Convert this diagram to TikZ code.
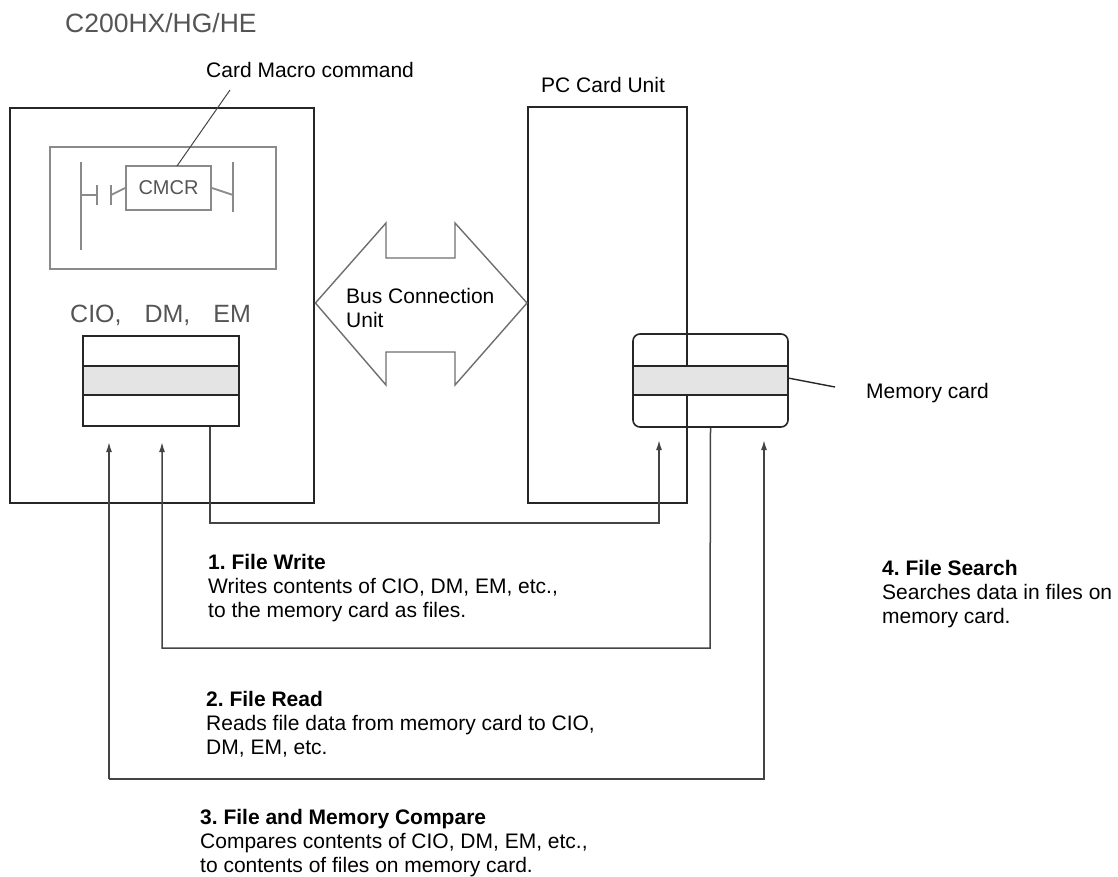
\documentclass[tikz,border=0pt]{standalone}
\usepackage{fontspec}
\setmainfont{Liberation Sans}
\usetikzlibrary{arrows.meta}
\definecolor{frame}{HTML}{262626}
\definecolor{wire}{HTML}{444444}
\definecolor{ladder}{HTML}{8A8A8A}
\definecolor{band}{HTML}{E4E4E4}
\definecolor{graytext}{HTML}{555555}
\tikzset{
  unitbox/.style={draw=frame, line width=2.4pt, inner sep=0pt, anchor=north west},
  ladbox/.style={draw=ladder, line width=1.8pt, inner sep=0pt, anchor=north west},
  ladline/.style={draw=ladder, line width=1.8pt},
  membox/.style={draw=frame, line width=1.6pt, inner sep=0pt},
  conn/.style={draw=wire, line width=1.5pt},
  arr/.style={conn, -{Latex[length=10pt,width=6pt]}},
  lbl/.style={font=\fontsize{21}{24}\selectfont, inner sep=0pt, text=black},
  blocklbl/.style={lbl, align=left, anchor=north west},
  graylbl/.style={inner sep=0pt, text=graytext},
}
\frenchspacing
\begin{document}
\frenchspacing
\begin{tikzpicture}[x=1pt,y=-1pt]
\useasboundingbox (0,0) rectangle (1118,876);

% titles
\node[graylbl, font=\fontsize{26.5}{30}\selectfont, anchor=base west] (title) at (65,32) {C200HX/HG/HE};
\node[lbl, anchor=base west] (cmclbl) at (206,77) {Card Macro command};
\node[lbl, anchor=base west] (pclbl) at (541,92) {PC Card Unit};

% main units
\node[unitbox, minimum width=304pt, minimum height=395pt] (plc) at (9,107) {};
\node[unitbox, minimum width=159pt, minimum height=396pt] (pcu) at (527,106) {};

% ladder program
\node[ladbox, minimum width=226pt, minimum height=122pt] (ladder) at (49,146) {};
\draw[ladline] (81,162) -- (81,250);
\draw[ladline] (81,195) -- (97,195);
\draw[ladline] (97,185) -- (97,205);
\draw[ladline] (111,185) -- (111,205);
\node[draw=ladder, line width=1.8pt, minimum width=85pt, minimum height=44pt, inner sep=0pt,
      graylbl, font=\fontsize{20}{24}\selectfont] (cmcr) at (168.5,188) {CMCR};
\draw[ladline] (111,195) -- (cmcr.west);
\draw[ladline] (cmcr.east) -- (233,195);
\draw[ladline] (233,162) -- (233,212);
\coordinate (cmctip) at (230,90);
\draw[draw=wire, line width=1pt] (177,166) -- (cmctip);

% data area
\node[graylbl, font=\fontsize{25}{30}\selectfont, anchor=base west] (mem) at (70,322) {CIO,\hspace{23pt}DM,\hspace{23pt}EM};
\fill[band] (83,366) rectangle (239,395);
\node[draw=frame, line width=1.5pt, minimum width=156pt, minimum height=90pt, inner sep=0pt] (reg) at (161,381) {};
\draw[draw=frame, line width=1.5pt] (83,366) -- (239,366) (83,395) -- (239,395);

% bus connection unit
\draw[draw=ladder!80!black, line width=1.4pt, line join=miter]
  (plc.east |- 0,303) -- (386,223) -- (386,258) -- (455,258) -- (455,223) -- (pcu.west |- 0,303)
  -- (455,385) -- (455,352) -- (386,352) -- (386,385) -- cycle;
\node[blocklbl] (bus) at (346,288) {Bus Connection\\Unit};

% memory card
\fill[band] (633,366) rectangle (788,395);
\node[membox, rounded corners=7pt, minimum width=155pt, minimum height=93pt] (card) at (710.5,380.5) {};
\draw[draw=frame, line width=1.5pt] (633,366) -- (788,366) (633,395) -- (788,395);
\node[lbl, anchor=base west] (cardlbl) at (866,398) {Memory card};
\draw[draw=frame, line width=1.4pt] (788,378) -- (835,387);

% connectors
\coordinate (fw) at (210,523);
\draw[arr] (reg.south -| fw) -- (fw) -- (659,523) -- (659,440);
\coordinate (fr) at (710,648);
\draw[arr] (card.south) -- (fr) -- (162,648) -- (162,442);
\coordinate (cmpL) at (109,779);
\coordinate (cmpR) at (764,779);
\draw[arr] (cmpL) -- (109,442);
\draw[arr] (cmpL) -- (cmpR) -- (764,440);

% descriptions
\node[blocklbl] (d1) at (208,554) {\textbf{1. File Write}\\Writes contents of CIO, DM, EM, etc.,\\to the memory card as files.};
\node[blocklbl] (d2) at (206,691) {\textbf{2. File Read}\\Reads file data from memory card to CIO,\\DM, EM, etc.};
\node[blocklbl] (d3) at (200,809) {\textbf{3. File and Memory Compare}\\Compares contents of CIO, DM, EM, etc.,\\to contents of files on memory card.};
\node[blocklbl] (d4) at (882,560) {\textbf{4. File Search}\\Searches data in files on\\memory card.};
\end{tikzpicture}
\end{document}
